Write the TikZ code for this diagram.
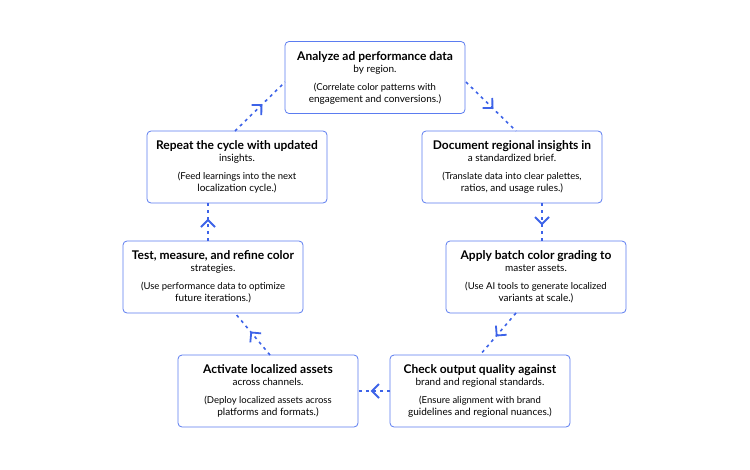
\documentclass[tikz,border=0pt]{standalone}
\usepackage{fontspec}
\setmainfont{Lato}
\usetikzlibrary{decorations.markings,arrows.meta}
\definecolor{bd}{HTML}{5B7CF0}
\definecolor{ar}{HTML}{3D63E8}
\begin{document}
\begin{tikzpicture}[x=1pt,y=-1pt,
 box/.style={draw=bd,line width=0.8pt,rounded corners=4pt,minimum width=180pt,minimum height=72pt,align=center,inner sep=0pt,fill=white},
 conn/.style={ar,line width=1.6pt,dash pattern=on 3pt off 4pt,
   postaction={decorate,decoration={markings,mark=at position 0.5 with {\draw[solid,line width=1.8pt,ar] (-5pt,7pt)--(2pt,0)--(-5pt,-7pt);}}}}]
\useasboundingbox (0,0) rectangle (750,469);
\newcommand{\bx}[4]{\node[box] (#1) at (#2) {\fontsize{12}{13}\bfseries #3\\[6pt]\fontsize{9.5}{12.5}\selectfont #4};}
\bx{a}{375,77.5}{Analyze ad performance data\\by region.}{(Correlate color patterns with\\engagement and conversions.)}
\bx{b}{512,167}{Document regional insights in\\a standardized brief.}{(Translate data into clear palettes,\\ratios, and usage rules.)}
\bx{c}{536,277}{Apply batch color grading to\\master assets.}{(Use AI tools to generate localized\\variants at scale.)}
\bx{d}{480,391}{Check output quality against\\brand and regional standards.}{(Ensure alignment with brand\\guidelines and regional nuances.)}
\bx{e}{268,391}{Activate localized assets\\across channels.}{(Deploy localized assets across\\platforms and formats.)}
\bx{f}{213,277}{Test, measure, and refine color\\strategies.}{(Use performance data to optimize\\future iterations.)}
\bx{g}{237,167}{Repeat the cycle with updated\\insights.}{(Feed learnings into the next\\localization cycle.)}
\coordinate (a1) at (466,82); \coordinate (b1) at (516,131);
\coordinate (b2) at (542,203); \coordinate (c2) at (542,241);
\coordinate (c3) at (516,313); \coordinate (d3) at (480,355);
\coordinate (d4) at (390,391); \coordinate (e4) at (358,391);
\coordinate (e5) at (270,355); \coordinate (f5) at (235,313);
\coordinate (f6) at (208,241); \coordinate (g6) at (208,203);
\coordinate (g7) at (235,131); \coordinate (a7) at (285,82);
\draw[conn] (a1)--(b1); \draw[conn] (b2)--(c2); \draw[conn] (c3)--(d3);
\draw[conn] (d4)--(e4); \draw[conn] (e5)--(f5); \draw[conn] (f6)--(g6);
\draw[conn] (g7)--(a7);
\end{tikzpicture}
\end{document}
